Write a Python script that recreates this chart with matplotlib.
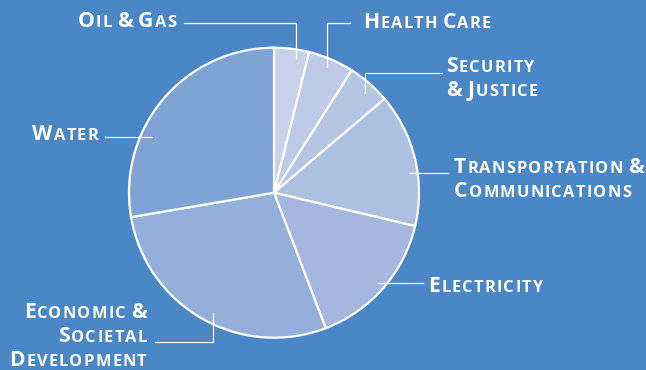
import matplotlib.pyplot as plt
import matplotlib.transforms as mtransforms

# share of each sector, clockwise from 12 o'clock
sectors = ['Oil & Gas', 'Health Care', 'Security\n& Justice',
           'Transportation &\nCommunications', 'Electricity',
           'Economic &\nSocietal\nDevelopment', 'Water']
shares = [3.9, 5.1, 4.8, 14.9, 15.5, 28.1, 27.7]
colors = ['#c5d2ea', '#becbe6', '#b5c5e4', '#acc0e1', '#a5b7de', '#94afd9', '#7fa3d5']

BG = '#4b87c6'
W, H = 646, 370
CX, CY, R = 274, 192.7, 145   # pie centre / radius in pixels (y from top)

BIG, SMALL = 15.2, 11.8        # font sizes for capitals / small capitals
TRACK, SPACE, LEAD = 1.2, 3.0, 23.7
FONT = dict(family='Open Sans', weight='bold', color='white')

# label anchor (x, first baseline, alignment) and leader polyline, pixels from top-left
layout = [
    (176, 26.7, 'right', [(184, 22.7), (296, 22.7), (296, 58)]),
    (363, 27.7, 'left', [(350, 23), (326.7, 23), (326.7, 67)]),
    (446, 72.3, 'left', [(441.7, 73.3), (365, 73.3), (365, 93)]),
    (454, 173.3, 'left', [(448, 173.3), (409, 173.3)]),
    (428.3, 291.7, 'left', [(422.7, 282.7), (378, 282.7)]),
    (146.7, 318.3, 'right', [(213.3, 313), (213.3, 341.7), (155, 341.7)]),
    (98.3, 140, 'right', [(105, 136.7), (151.7, 136.7)]),
]

fig = plt.figure(figsize=(W / 100, H / 100), dpi=100, facecolor=BG)
ax = fig.add_axes([(CX - R) / W, (H - CY - R) / H, 2 * R / W, 2 * R / H])
ax.pie(shares, colors=colors, startangle=90, counterclock=False,
       wedgeprops=dict(edgecolor='white', linewidth=1.6))
ax.set_xlim(-1, 1)
ax.set_ylim(-1, 1)

pix = mtransforms.IdentityTransform()
renderer = fig.canvas.get_renderer()


def caps_line(x, y, line, align):
    # fake small caps: capitals at full size, lower case set as smaller capitals
    arts = []
    for ch in line:
        if ch == ' ':
            arts.append(None)
            continue
        size = SMALL if ch.islower() else BIG
        arts.append(fig.text(0, 0, ch.upper(), fontsize=size, transform=pix,
                             va='baseline', ha='left', **FONT))
    widths = [SPACE if t is None else t.get_window_extent(renderer).width for t in arts]
    total = sum(widths) + TRACK * (len(widths) - 1)
    x0 = x - total if align == 'right' else x
    for t, w in zip(arts, widths):
        if t is not None:
            t.set_position((x0, H - y))
        x0 += w + TRACK


for name, (x, y, align, leader) in zip(sectors, layout):
    for i, line in enumerate(name.split('\n')):
        caps_line(x, y + i * LEAD, line, align)
    xs = [p[0] for p in leader]
    ys = [H - p[1] for p in leader]
    fig.add_artist(plt.Line2D(xs, ys, transform=pix, color='white', linewidth=0.9))

fig.savefig('out.png', dpi=100, facecolor=BG)
